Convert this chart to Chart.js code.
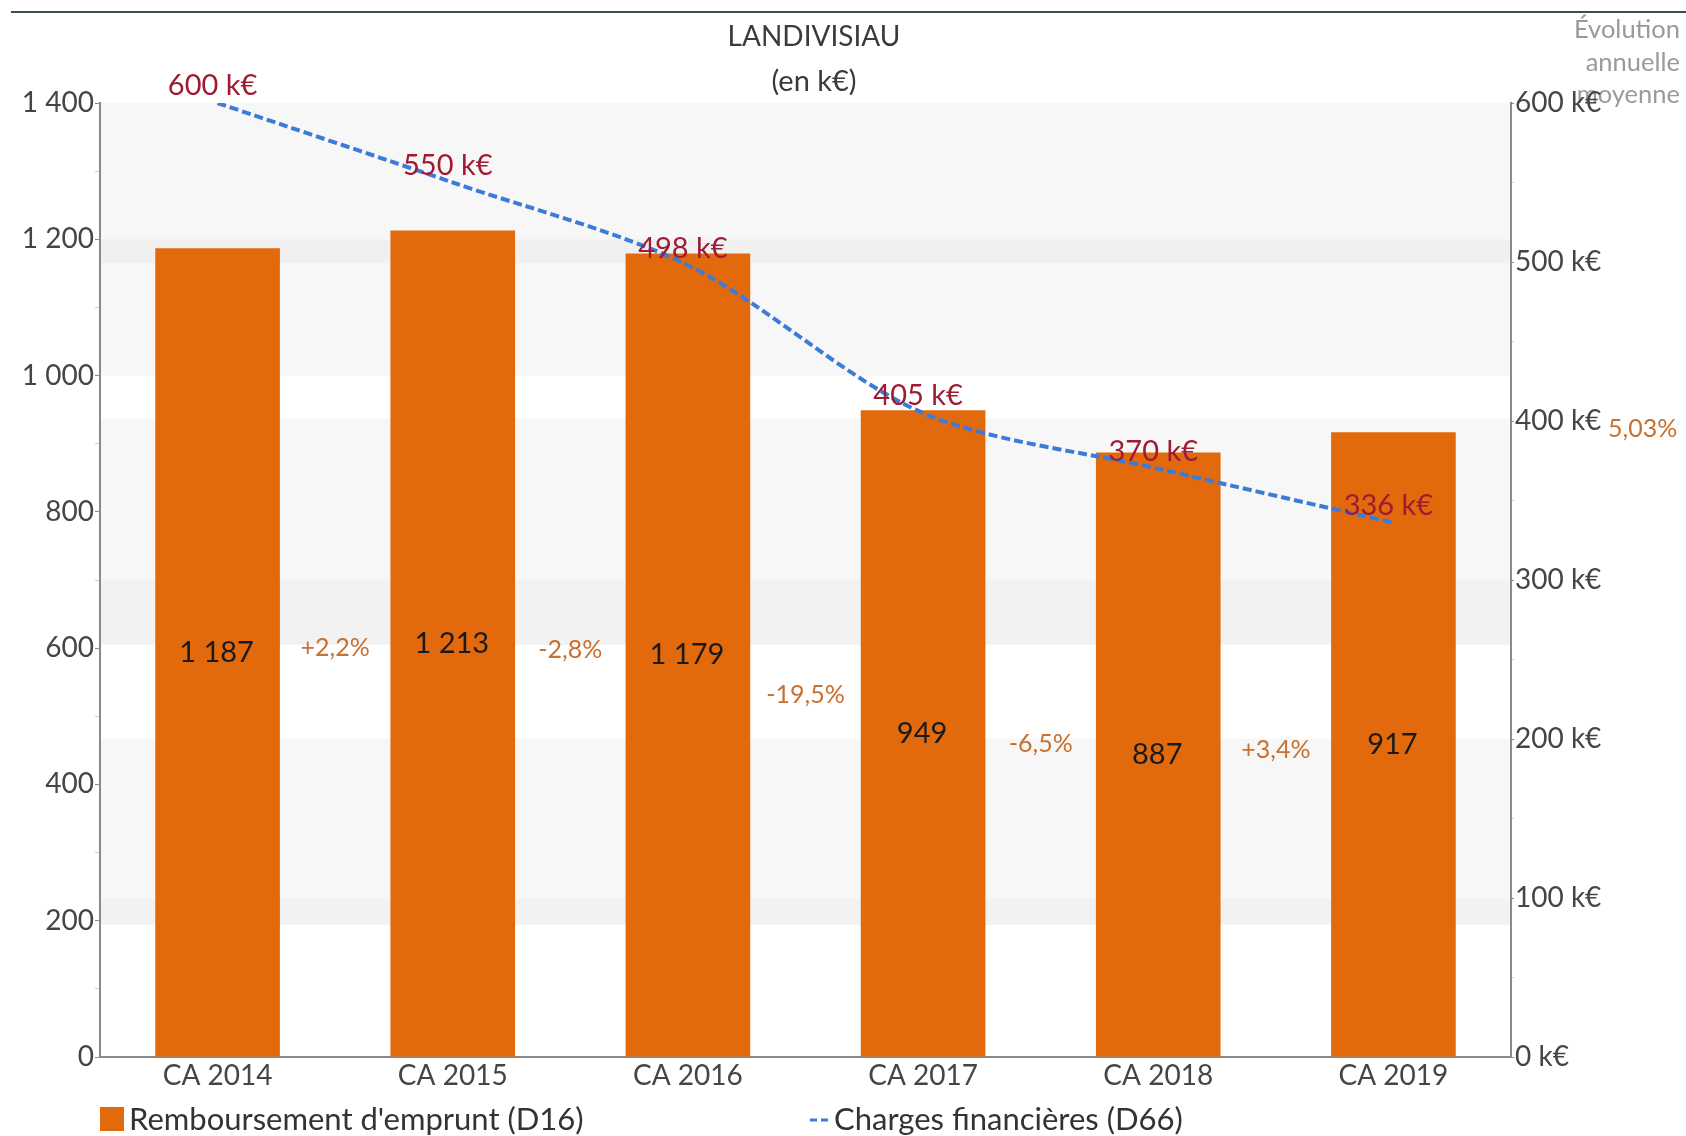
<!DOCTYPE html>
<html lang="fr">
<head>
<meta charset="utf-8">
<title>LANDIVISIAU</title>
<script src="https://cdn.jsdelivr.net/npm/chart.js@4.4.1/dist/chart.umd.min.js"></script>
<style>
  html, body { margin: 0; padding: 0; background: #ffffff; }
  #wrap { position: relative; width: 1686px; height: 1136px; }
  canvas { display: block; }
</style>
</head>
<body>
<div id="wrap"><canvas id="c" width="1686" height="1136"></canvas></div>
<script>
// ---- DATA ----
const categories = ['CA 2014', 'CA 2015', 'CA 2016', 'CA 2017', 'CA 2018', 'CA 2019'];
const remboursement = [1187, 1213, 1179, 949, 887, 917];
const charges = [600, 550, 498, 405, 370, 336];
const evolutionLabels = ['+2,2%', '-2,8%', '-19,5%', '-6,5%', '+3,4%'];
const evolutionMoyenne = '5,03%';
const titleLines = ['LANDIVISIAU', '(en k€)'];
const noteLines = ['Évolution', 'annuelle', 'moyenne'];
const seriesNames = ["Remboursement d'emprunt (D16)", 'Charges financières (D66)'];
const leftMax = 1400;
const rightMax = 600;

// ---- STYLE ----
const ORANGE = '#e36a0c';
const BLUE = '#3c7cd8';
const DARKRED = '#9e1b32';
const PCT = '#c8702f';
const FONT = 'Lato';

function fmtThousands(v) {
  if (v >= 1000) return Math.floor(v / 1000) + ' ' + String(v % 1000).padStart(3, '0');
  return String(v);
}

const annot = {
  id: 'annot',
  beforeDraw(chart) {
    const { ctx, chartArea: a, scales: { y } } = chart;
    ctx.save();
    ctx.fillStyle = '#ffffff';
    ctx.fillRect(0, 0, chart.width, chart.height);
    // top rule
    ctx.strokeStyle = '#3d4b55';
    ctx.lineWidth = 2;
    ctx.beginPath(); ctx.moveTo(11, 12); ctx.lineTo(chart.width, 12); ctx.stroke();
    // background bands (left-axis values)
    const bands = [
      [1000, 1400, '#f7f7f7'], [1165, 1200, '#f0f0f0'],
      [700, 937, '#f7f7f7'], [605, 700, '#f2f2f2'],
      [233, 467, '#f7f7f7'], [194, 233, '#f2f2f2']
    ];
    bands.forEach(([lo, hi, c]) => {
      const y1 = y.getPixelForValue(hi), y2 = y.getPixelForValue(lo);
      ctx.fillStyle = c;
      ctx.fillRect(a.left, y1, a.right - a.left, y2 - y1);
    });
    // title
    ctx.font = '28px ' + FONT;
    ctx.fillStyle = '#3a3a3a';
    ctx.textAlign = 'center';
    ctx.textBaseline = 'middle';
    ctx.fillText(titleLines[0], 814, 37);
    ctx.font = '29px ' + FONT;
    ctx.fillText(titleLines[1], 814, 82);
    // note
    ctx.font = '25.5px ' + FONT;
    ctx.fillStyle = '#9a9a9a';
    ctx.textAlign = 'right';
    noteLines.forEach((t, i) => ctx.fillText(t, 1680, 30 + i * 32.5));
    ctx.restore();
  },
  afterDatasetsDraw(chart) {
    const { ctx, chartArea: a, scales: { y } } = chart;
    const bars = chart.getDatasetMeta(1).data;
    const pts = chart.getDatasetMeta(0).data;
    ctx.save();
    ctx.textAlign = 'center';
    ctx.textBaseline = 'middle';
    // bar values
    ctx.font = '29px ' + FONT;
    ctx.fillStyle = '#1a1a1a';
    bars.forEach((b, i) => ctx.fillText(fmtThousands(remboursement[i]), b.x - 1, (b.y + b.base) / 2));
    // evolution labels
    ctx.font = '25px ' + FONT;
    ctx.fillStyle = PCT;
    evolutionLabels.forEach((t, i) => {
      const x = (bars[i].x + bars[i + 1].x) / 2;
      const yy = y.getPixelForValue((remboursement[i] + remboursement[i + 1]) / 4);
      ctx.fillText(t, x, yy);
    });
    // line labels
    ctx.font = '29px ' + FONT;
    ctx.fillStyle = DARKRED;
    pts.forEach((p, i) => ctx.fillText(charges[i] + ' k€', p.x - 5, p.y - 17));
    // average evolution
    ctx.font = '25px ' + FONT;
    ctx.fillStyle = PCT;
    ctx.textAlign = 'left';
    ctx.fillText(evolutionMoyenne, a.right + 97, y.getPixelForValue(remboursement[remboursement.length - 1]) - 3);
    ctx.restore();
  },
  afterDraw(chart) {
    const { ctx } = chart;
    ctx.save();
    ctx.textBaseline = 'middle';
    ctx.textAlign = 'left';
    ctx.font = '31px ' + FONT;
    // legend item 1
    ctx.fillStyle = ORANGE;
    ctx.fillRect(100, 1107, 24, 24);
    ctx.fillStyle = '#333333';
    ctx.fillText(seriesNames[0], 129, 1120);
    // legend item 2
    ctx.strokeStyle = BLUE;
    ctx.lineWidth = 3;
    ctx.setLineDash([7, 4]);
    ctx.beginPath(); ctx.moveTo(810, 1120); ctx.lineTo(830, 1120); ctx.stroke();
    ctx.setLineDash([]);
    ctx.fillStyle = '#333333';
    ctx.fillText(seriesNames[1], 834, 1120);
    ctx.restore();
  }
};

function build() {
  Chart.defaults.font.family = FONT;
  new Chart(document.getElementById('c'), {
    data: {
      labels: categories,
      datasets: [
        {
          type: 'line', label: seriesNames[1], data: charges, yAxisID: 'y2', order: 0,
          borderColor: BLUE, borderWidth: 4, borderDash: [9, 4], pointRadius: 0,
          tension: 0.3, fill: false
        },
        {
          type: 'bar', label: seriesNames[0], data: remboursement, yAxisID: 'y', order: 1,
          backgroundColor: ORANGE, borderWidth: 0, categoryPercentage: 0.53, barPercentage: 1
        }
      ]
    },
    options: {
      responsive: false,
      devicePixelRatio: 1,
      animation: false,
      layout: { padding: { top: 103, left: 0, right: 0, bottom: 0 } },
      plugins: { legend: { display: false }, title: { display: false }, tooltip: { enabled: false } },
      scales: {
        x: {
          grid: { display: true, drawOnChartArea: false, drawTicks: false },
          border: { display: true, color: '#8a8a8a', width: 2 },
          ticks: { color: '#454545', font: { size: 28 }, padding: 2, maxRotation: 0 },
          afterFit(s) { s.height = 79; }
        },
        y: {
          position: 'left', min: 0, max: leftMax,
          grid: {
            drawOnChartArea: false, drawTicks: true, tickLength: 5,
            tickColor: (c) => (c.tick && c.tick.value % 200 === 0) ? '#8a8a8a' : '#d0d0d0'
          },
          border: { display: true, color: '#8a8a8a', width: 2 },
          ticks: {
            stepSize: 100, color: '#454545', font: { size: 28 }, padding: 1,
            callback: (v) => v % 200 === 0 ? fmtThousands(v) : ''
          },
          afterFit(s) { s.width = 100; }
        },
        y2: {
          position: 'right', min: 0, max: rightMax,
          grid: {
            drawOnChartArea: false, drawTicks: true, tickLength: 3,
            tickColor: (c) => (c.tick && c.tick.value % 100 === 0) ? '#8a8a8a' : '#d0d0d0'
          },
          border: { display: true, color: '#8a8a8a', width: 2 },
          ticks: {
            stepSize: 50, color: '#454545', font: { size: 28 }, padding: 1,
            callback: (v) => v % 100 === 0 ? v + ' k€' : ''
          },
          afterFit(s) { s.width = 175; }
        }
      }
    },
    plugins: [annot]
  });
}

if (document.fonts && document.fonts.load) {
  Promise.all([document.fonts.load('28px Lato'), document.fonts.load('24px Lato')]).then(build, build);
} else {
  build();
}
</script>
</body>
</html>
